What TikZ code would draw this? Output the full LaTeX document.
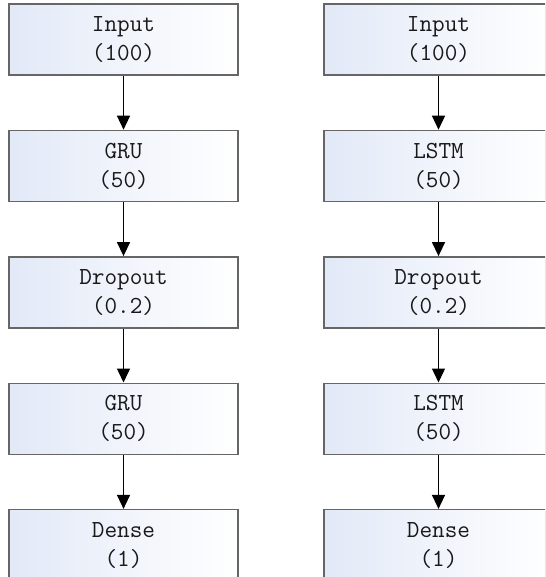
\documentclass[tikz,border=0pt]{standalone}
\usepackage{tikz}
\usetikzlibrary{positioning}
\usetikzlibrary{arrows.meta}
\usetikzlibrary{shadows}
\tikzset{
  layer/.style = {rectangle, draw=black!60, line width=1.4pt,
    minimum width=229pt, minimum height=71pt, inner sep=0pt,
    left color={rgb,255:red,226;green,233;blue,247}, right color=white,
    drop shadow={shadow xshift=0.9pt, shadow yshift=-0.9pt, fill=black!80, opacity=1},
    align=center, text=black!90,
    font=\ttfamily\fontsize{24.5}{29}\selectfont},
}

\begin{document}
\begin{tikzpicture}[->,>={Triangle[width=13pt,length=14pt]},
  node distance=54pt, line width=1.4pt]
            \clip (0,0) rectangle (545pt,-577pt);
            % GRU stack
            \node[layer] (in1) at (123.5pt,-39.5pt) {Input\\(100)};
            \node[layer, below=of in1] (gru1) {GRU\\(50)};
            \node[layer, below=of gru1] (drop1) {Dropout\\(0.2)};
            \node[layer, below=of drop1] (gru2) {GRU\\(50)};
            \node[layer, below=of gru2] (dense1) {Dense\\(1)};
            % LSTM stack
            \node[layer] (in2) at (438.5pt,-39.5pt) {Input\\(100)};
            \node[layer, below=of in2] (lstm1) {LSTM\\(50)};
            \node[layer, below=of lstm1] (drop2) {Dropout\\(0.2)};
            \node[layer, below=of drop2] (lstm2) {LSTM\\(50)};
            \node[layer, below=of lstm2] (dense2) {Dense\\(1)};

            \draw (in1) -- (gru1);
            \draw (gru1) -- (drop1);
            \draw (drop1) -- (gru2);
            \draw (gru2) -- (dense1);
            \draw (in2) -- (lstm1);
            \draw (lstm1) -- (drop2);
            \draw (drop2) -- (lstm2);
            \draw (lstm2) -- (dense2);
        \end{tikzpicture}
\end{document}
